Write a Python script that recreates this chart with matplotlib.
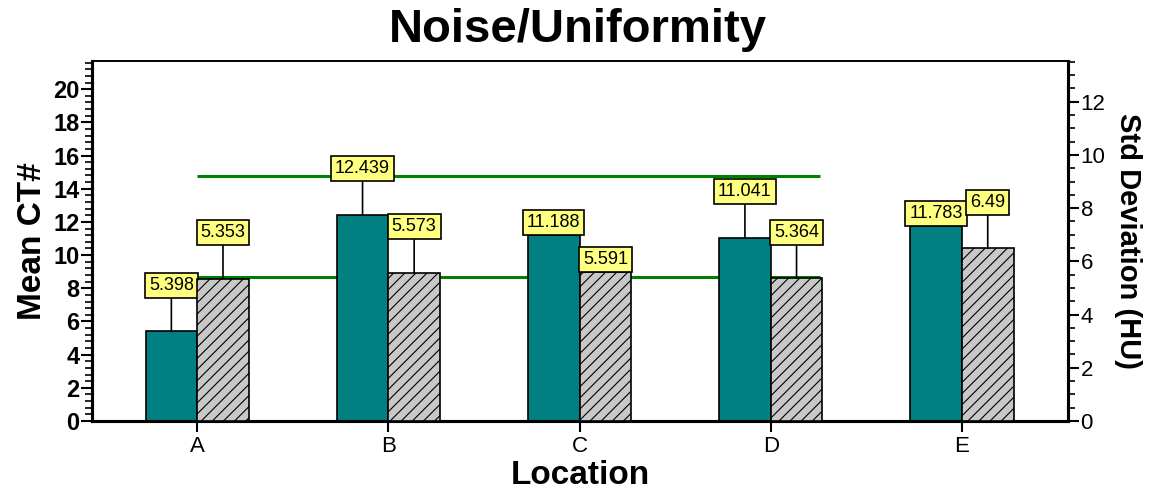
import numpy as np
import matplotlib
matplotlib.use("Agg")
import matplotlib.pyplot as plt
from matplotlib.ticker import MultipleLocator

plt.rcParams['font.family'] = ['Liberation Sans', 'DejaVu Sans']
plt.rcParams['hatch.linewidth'] = 0.8

# data
locations = ['A', 'B', 'C', 'D', 'E']
mean_ct = [5.398, 12.439, 11.188, 11.041, 11.783]
std_dev = [5.353, 5.573, 5.591, 5.364, 6.49]
mean_labels = ['5.398', '12.439', '11.188', '11.041', '11.783']
std_labels = ['5.353', '5.573', '5.591', '5.364', '6.49']
limit_upper = 14.75
limit_lower = 8.7

# label box raise above bar top, in pixels
mean_raise = [46, 46, 13, 46, 12]
std_raise = [46, 46, 13, 46, 46]

x = np.arange(len(locations))
w = 0.27

fig = plt.figure(figsize=(11.56, 5.0), dpi=100)
ax = fig.add_axes([0.0796, 0.158, 0.8443, 0.72])
ax2 = ax.twinx()

ax.bar(x - w / 2, mean_ct, width=w, color='#008080', edgecolor='black', linewidth=1.2, zorder=3)
ax2.bar(x + w / 2, std_dev, width=w, color='#c8c8c8', edgecolor='black', linewidth=1.2,
        hatch='///', zorder=3)

ax.hlines([limit_upper, limit_lower], 0, 3.26, colors='#008000', linewidth=2.2, zorder=2)

box = dict(boxstyle='square,pad=0.22', fc='#ffff80', ec='black', lw=1.2)
for xi, v, s, r in zip(x - w / 2, mean_ct, mean_labels, mean_raise):
    ax.annotate(s, (xi, v), xytext=(0, r), textcoords='offset pixels', ha='center', va='center',
                fontsize=13, bbox=box, zorder=6,
                arrowprops=dict(arrowstyle='-', color='black', lw=1.2, shrinkA=0, shrinkB=0))
for xi, v, s, r in zip(x + w / 2, std_dev, std_labels, std_raise):
    ax2.annotate(s, (xi, v), xytext=(0, r), textcoords='offset pixels', ha='center', va='center',
                 fontsize=13, bbox=box, zorder=6,
                 arrowprops=dict(arrowstyle='-', color='black', lw=1.2, shrinkA=0, shrinkB=0))

ax.set_xlim(-0.55, 4.555)
ax.set_ylim(0, 21.7)
ax2.set_ylim(0, 13.53)

ax.set_xticks(x)
ax.set_xticklabels(locations, fontsize=16)
ax.yaxis.set_major_locator(MultipleLocator(2))
ax.yaxis.set_minor_locator(MultipleLocator(0.4))
ax2.yaxis.set_major_locator(MultipleLocator(2))
ax2.yaxis.set_minor_locator(MultipleLocator(0.5))

ax.tick_params(axis='y', which='major', length=8, width=1.5, labelsize=17, pad=1)
ax.tick_params(axis='y', which='minor', length=5, width=1.2)
ax.tick_params(axis='x', length=8, width=1.5, pad=3)
ax2.tick_params(axis='y', which='major', length=8, width=1.5, labelsize=16, pad=1)
ax2.tick_params(axis='y', which='minor', length=5, width=1.2)
for lab in ax.get_yticklabels():
    lab.set_fontweight('bold')

for a in (ax, ax2):
    for side in ('left', 'bottom', 'right'):
        a.spines[side].set_linewidth(2.2)
    a.spines['top'].set_linewidth(1.2)

ax.set_xlabel('Location', fontsize=24, fontweight='bold', labelpad=2)
ax.set_ylabel('Mean CT#', fontsize=24, fontweight='bold', labelpad=4)
ax2.set_ylabel('Std Deviation (HU)', fontsize=21, fontweight='bold', rotation=-90, labelpad=26)
fig.text(0.5, 0.94, 'Noise/Uniformity', fontsize=34, fontweight='bold', ha='center', va='center')

fig.savefig('out.png', dpi=100)
